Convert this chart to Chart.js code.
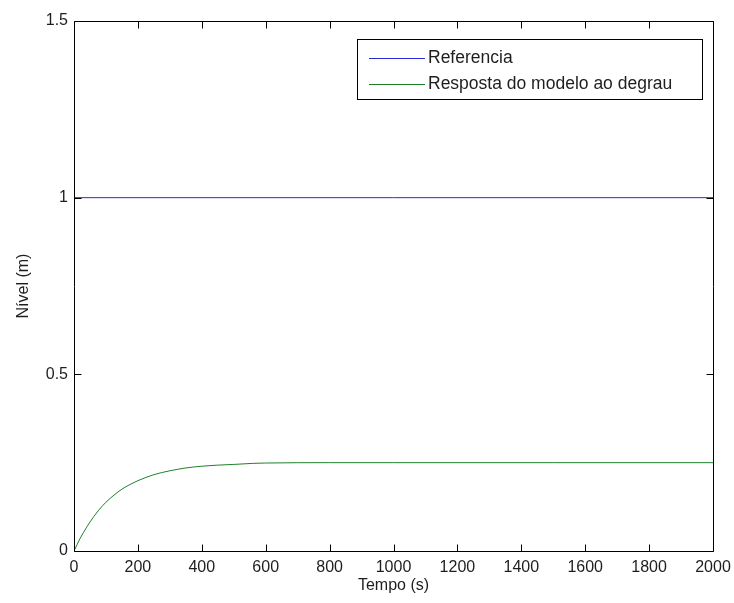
<!DOCTYPE html>
<html>
<head>
<meta charset="utf-8">
<script src="https://cdn.jsdelivr.net/npm/chart.js@4/dist/chart.umd.min.js"></script>
<style>
  html, body { margin: 0; padding: 0; background: #fff; }
  #wrap { width: 734px; height: 603px; }
</style>
</head>
<body>
<div id="wrap"><canvas id="c" width="734" height="603"></canvas></div>
<script>
// Step response of the level model against the reference
const tempo = [0, 10, 20, 30, 50, 75, 100, 125, 150, 200, 250, 300, 350, 400, 450, 500, 560, 600, 800, 1000, 1500, 2000];
const resposta = [0, 0.019, 0.037, 0.053, 0.082, 0.113, 0.138, 0.158, 0.175, 0.199, 0.216, 0.227, 0.235, 0.240, 0.243, 0.245, 0.248, 0.249, 0.250, 0.250, 0.250, 0.250];
const refTempo = [0, 2000];
const referencia = [1, 1];
const xTicks = [0, 200, 400, 600, 800, 1000, 1200, 1400, 1600, 1800, 2000];
const yTicks = [0, 0.5, 1, 1.5];

const FONT = '"Liberation Sans", Arial, sans-serif';
const TEXT = '#1e1e1e';

// Box around the axes with inward ticks on all four sides, plus the boxed legend
const boxTicks = {
  id: 'boxTicks',
  afterDraw(chart) {
    const { ctx, chartArea: a, scales } = chart;
    const len = 7;
    const L = Math.round(a.left) + 0.5, R = Math.round(a.right) + 0.5;
    const T = Math.round(a.top) + 0.5, B = Math.round(a.bottom) + 0.5;
    ctx.save();
    ctx.strokeStyle = '#000';
    ctx.lineWidth = 1;
    ctx.beginPath();
    ctx.rect(L, T, R - L, B - T);
    for (const v of xTicks) {
      const x = Math.round(scales.x.getPixelForValue(v)) + 0.5;
      ctx.moveTo(x, B); ctx.lineTo(x, B - len);
      ctx.moveTo(x, T); ctx.lineTo(x, T + len);
    }
    for (const v of yTicks) {
      const y = Math.round(scales.y.getPixelForValue(v)) + 0.5;
      ctx.moveTo(L, y); ctx.lineTo(L + len, y);
      ctx.moveTo(R, y); ctx.lineTo(R - len, y);
    }
    ctx.stroke();

    // legend box
    const bx = 357.5, by = 39.5, bw = 345, bh = 60;
    ctx.fillStyle = '#fff';
    ctx.fillRect(bx, by, bw, bh);
    ctx.strokeRect(bx, by, bw, bh);
    ctx.font = '17.5px ' + FONT;
    ctx.textBaseline = 'middle';
    ctx.textAlign = 'left';
    chart.data.datasets.forEach((ds, i) => {
      const y = 58.5 + i * 26;
      ctx.strokeStyle = ds.borderColor;
      ctx.beginPath();
      ctx.moveTo(369, y); ctx.lineTo(425, y);
      ctx.stroke();
      ctx.fillStyle = TEXT;
      ctx.fillText(ds.label, 428, y);
    });
    ctx.restore();
  }
};

new Chart(document.getElementById('c'), {
  type: 'line',
  data: {
    datasets: [
      {
        label: 'Referencia',
        data: refTempo.map((t, i) => ({ x: t, y: referencia[i] })),
        borderColor: '#2a2ad8',
        borderWidth: 1,
        pointRadius: 0,
        tension: 0
      },
      {
        label: 'Resposta do modelo ao degrau',
        data: tempo.map((t, i) => ({ x: t, y: resposta[i] })),
        borderColor: '#1f7f2a',
        borderWidth: 1,
        pointRadius: 0,
        cubicInterpolationMode: 'monotone'
      }
    ]
  },
  options: {
    responsive: false,
    animation: false,
    devicePixelRatio: 1,
    layout: { padding: { top: 21, right: 21, left: 0, bottom: 0 } },
    plugins: { legend: { display: false }, tooltip: { enabled: false } },
    scales: {
      x: {
        type: 'linear',
        min: 0, max: 2000,
        afterBuildTicks: s => { s.ticks = xTicks.map(v => ({ value: v })); },
        afterFit: s => { s.height = 52; s.paddingLeft = 0; s.paddingRight = 0; },
        grid: { display: false, drawTicks: false },
        border: { display: false },
        ticks: { color: TEXT, font: { family: FONT, size: 16 }, padding: 7, maxRotation: 0, autoSkip: false, callback: v => String(v) },
        title: { display: true, text: 'Tempo (s)', color: TEXT, font: { family: FONT, size: 16 }, padding: { top: 0, bottom: 8 } }
      },
      y: {
        type: 'linear',
        min: 0, max: 1.5,
        afterBuildTicks: s => { s.ticks = yTicks.map(v => ({ value: v })); },
        afterFit: s => { s.width = 74; s.paddingTop = 0; s.paddingBottom = 0; },
        grid: { display: false, drawTicks: false },
        border: { display: false },
        ticks: { color: TEXT, font: { family: FONT, size: 16 }, padding: 6, callback: v => String(v) },
        title: { display: true, text: 'Nível (m)', color: TEXT, font: { family: FONT, size: 16 }, padding: { top: 14, bottom: 0 } }
      }
    }
  },
  plugins: [boxTicks]
});
</script>
</body>
</html>
